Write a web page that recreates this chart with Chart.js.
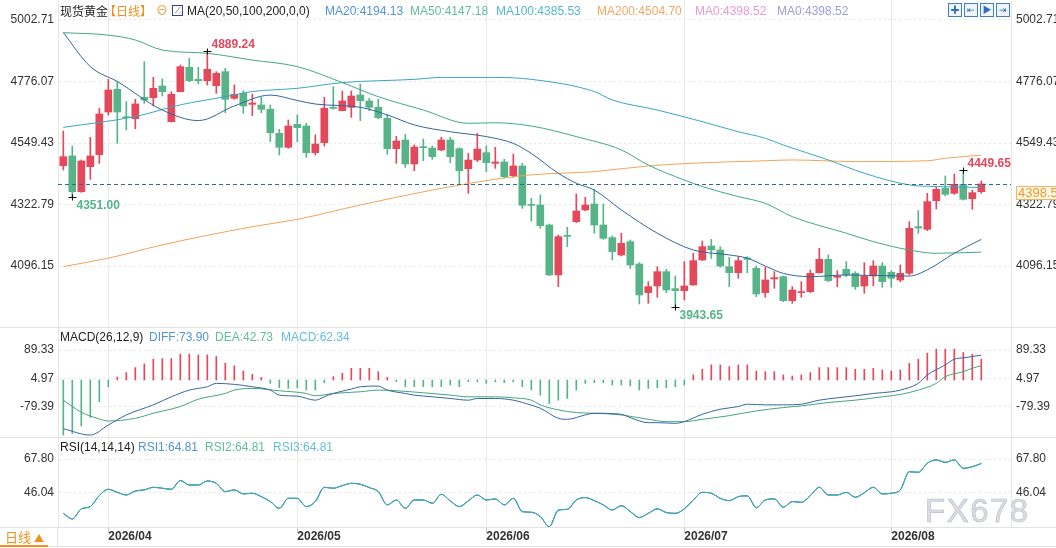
<!DOCTYPE html>
<html>
<head>
<meta charset="utf-8">
<script src="https://cdn.jsdelivr.net/npm/chart.js@4.4.1/dist/chart.umd.min.js"></script>
<style>
  body { margin: 0; background: #fff; }
  #wrap { position: relative; width: 1056px; height: 548px; overflow: hidden; background: #fff;
          font-family: "Liberation Sans", Arial, "Noto Sans CJK SC", sans-serif; font-size: 12px; color: #222; }
  canvas { position: absolute; left: 0; }
  .t { position: absolute; white-space: nowrap; line-height: 14px; z-index: 2; }
  .cjk { font-family: "Noto Sans CJK SC", sans-serif; }
  .sep { position: absolute; left: 0; width: 1056px; height: 1px; background: #e2e2e2; z-index: 2; }
  .ico { position: absolute; top: 3px; width: 12px; height: 12px; border: 1px solid #3f7fc8; background: #eef5fd;
         color: #2f6fb8; font-size: 9px; line-height: 12px; text-align: center; z-index: 2; }
</style>
</head>
<body>
<div id="wrap">
  <canvas id="mainChart" width="1056" height="327" style="top:0"></canvas>
  <canvas id="macdChart" width="1056" height="110" style="top:327px"></canvas>
  <canvas id="rsiChart" width="1056" height="111" style="top:437px"></canvas>

  <div class="sep" style="top:327px"></div>
  <div class="sep" style="top:437px"></div>
  <div class="sep" style="top:527px"></div>
  <div class="sep" style="top:546px"></div>

  <!-- price panel header -->
  <span class="t cjk" style="left:60px;top:4px">现货黄金</span>
  <span class="t cjk" style="left:104px;top:4px;color:#f0901e">【日线】</span>
  <span class="t" style="left:156px;top:4px;color:#f0901e">⊖</span>
  <span class="t" style="left:172px;top:5px;width:9px;height:9px;border:1px solid #34467a;font-size:8px;line-height:9px;text-align:center;color:#34467a">⟋</span>
  <span class="t" style="left:187px;top:4px">MA(20,50,100,200,0,0)</span>
  <span class="t" style="left:325px;top:4px;color:#4f94d4">MA20:4194.13</span>
  <span class="t" style="left:410px;top:4px;color:#62bf97">MA50:4147.18</span>
  <span class="t" style="left:496px;top:4px;color:#55b9cf">MA100:4385.53</span>
  <span class="t" style="left:597px;top:4px;color:#f2a764">MA200:4504.70</span>
  <span class="t" style="left:695px;top:4px;color:#e79bd6">MA0:4398.52</span>
  <span class="t" style="left:777px;top:4px;color:#9b9ee0">MA0:4398.52</span>
  <span class="ico" style="left:948px">✚</span>
  <span class="ico" style="left:964px">⇤</span>
  <span class="ico" style="left:980px">▶</span>
  <span class="ico" style="left:996px">⇥</span>

  <!-- MACD header -->
  <span class="t" style="left:60px;top:330px">MACD(26,12,9)</span>
  <span class="t" style="left:149px;top:330px;color:#4f94d4">DIFF:73.90</span>
  <span class="t" style="left:215px;top:330px;color:#62bf97">DEA:42.73</span>
  <span class="t" style="left:281px;top:330px;color:#62bfd8">MACD:62.34</span>

  <!-- RSI header -->
  <span class="t" style="left:60px;top:440px">RSI(14,14,14)</span>
  <span class="t" style="left:138px;top:440px;color:#4f94d4">RSI1:64.81</span>
  <span class="t" style="left:205px;top:440px;color:#62bf97">RSI2:64.81</span>
  <span class="t" style="left:273px;top:440px;color:#62bfd8">RSI3:64.81</span>

  <!-- bottom left period switch -->
  <div style="position:absolute;left:0;top:527px;width:57px;height:19px;border-right:1px solid #e2e2e2;z-index:2"></div>
  <span class="t cjk" style="left:5px;top:529px;font-size:13px;line-height:15px;color:#f0901e">日线 <span style="font-size:10px">▲</span></span>
  <div style="position:absolute;left:0;top:545px;width:48px;height:2px;background:#f0901e;z-index:2"></div>

  <span class="t" style="left:925px;top:492px;font-size:33px;line-height:38px;letter-spacing:1.5px;color:rgba(208,212,220,0.8);-webkit-text-stroke:0.6px #b8bcc4;font-family:'Liberation Sans',Arial,sans-serif">FX678</span>
</div>

<script>
// Spot gold daily candles with MA, MACD and RSI panels.
// Candle index 0..102 on a linear x axis shared by all three panels.

const FONT = '"Liberation Sans", Arial, sans-serif';
const UP = '#e5475b';
const DOWN = '#56b488';
const X_MIN = -0.59, X_MAX = 105.3;

const monthLabels = ['2026/04', '2026/05', '2026/06', '2026/07', '2026/08'];
const monthIdx = [5, 26, 47, 69, 92];

const priceTicks = [5002.71, 4776.07, 4549.43, 4322.79, 4096.15];
const macdTicks = [89.33, 4.97, -79.39];
const rsiTicks = [67.80, 46.04];

const openP = [
  4465.9, 4501.6, 4370.1, 4462.2, 4506.5, 4663.7, 4747.2, 4646.5, 4639.1, 4717.7,
  4716.5, 4759.5, 4628.1, 4738.6, 4828.3, 4784.1, 4779.1, 4760.7, 4812.3, 4714.0,
  4732.5, 4691.9, 4689.5, 4673.5, 4585.1, 4533.5, 4618.2, 4612.1, 4513.8, 4550.7,
  4680.9, 4668.6, 4680.9, 4726.3, 4704.2, 4680.9, 4640.4, 4528.6, 4560.5, 4472.1,
  4535.9, 4531.0, 4523.7, 4560.5, 4528.6, 4454.9, 4486.8, 4513.8, 4474.5, 4479.4,
  4429.1, 4464.7, 4323.5, 4321.0, 4247.3, 4063.1, 4209.2, 4259.6, 4302.6, 4324.7,
  4247.3, 4200.6, 4136.7, 4185.9, 4103.6, 3998.0, 4022.5, 4075.3, 4012.7, 4005.3,
  4026.2, 4118.3, 4169.9, 4155.2, 4093.8, 4071.6, 4125.7, 4087.6, 3998.0, 4048.3,
  4056.9, 3968.5, 3998.0, 4001.6, 4071.6, 4120.8, 4054.4, 4083.9, 4069.2, 4022.5,
  4059.4, 4096.2, 4072.9, 4044.6, 4069.2, 4241.2, 4231.3, 4337.0, 4382.4, 4364.0,
  4397.1, 4344.3, 4370.1
];
const highP = [
  4593.7, 4538.4, 4486.8, 4570.3, 4677.2, 4784.1, 4775.5, 4701.8, 4710.4, 4849.2,
  4791.4, 4785.3, 4738.6, 4836.9, 4861.4, 4828.3, 4889.24, 4812.3, 4824.6, 4763.2,
  4742.3, 4730.0, 4717.7, 4689.5, 4599.8, 4634.2, 4652.6, 4621.9, 4578.9, 4717.7,
  4757.0, 4741.1, 4741.1, 4766.9, 4714.0, 4710.4, 4655.1, 4574.0, 4581.4, 4542.1,
  4564.2, 4538.4, 4570.3, 4570.3, 4532.3, 4511.4, 4585.1, 4538.4, 4533.5, 4489.3,
  4508.9, 4474.5, 4345.6, 4357.8, 4251.0, 4210.4, 4238.7, 4361.5, 4349.2, 4378.7,
  4324.7, 4206.8, 4216.6, 4192.0, 4108.5, 4038.5, 4093.8, 4083.9, 4059.4, 4112.2,
  4142.9, 4188.3, 4194.5, 4167.5, 4128.2, 4130.6, 4130.6, 4096.2, 4091.3, 4075.3,
  4059.4, 4020.1, 4038.5, 4081.5, 4161.3, 4136.7, 4079.0, 4112.2, 4075.3, 4108.5,
  4115.9, 4108.5, 4079.0, 4099.9, 4259.6, 4300.1, 4364.0, 4386.1, 4427.9, 4435.2,
  4449.65, 4376.3, 4409.4
];
const lowP = [
  4450.0, 4351.0, 4367.7, 4415.6, 4474.5, 4652.6, 4548.2, 4597.4, 4602.3, 4695.6,
  4685.8, 4722.6, 4626.8, 4737.4, 4775.5, 4766.9, 4763.2, 4732.5, 4661.2, 4710.4,
  4658.8, 4650.2, 4661.2, 4554.4, 4505.2, 4529.8, 4554.4, 4496.6, 4505.2, 4538.4,
  4673.5, 4667.4, 4644.0, 4631.8, 4668.6, 4639.1, 4507.7, 4474.5, 4459.8, 4447.5,
  4484.4, 4489.3, 4521.2, 4477.0, 4397.1, 4364.0, 4480.7, 4443.8, 4456.1, 4420.5,
  4422.9, 4308.7, 4262.0, 4235.0, 4061.8, 4020.1, 4167.5, 4255.9, 4300.1, 4216.6,
  4194.5, 4118.3, 4133.1, 4087.6, 3956.2, 3958.6, 3980.8, 3998.0, 3943.65, 3970.9,
  4025.0, 4115.9, 4124.5, 4091.3, 4020.1, 4050.8, 4071.6, 3983.2, 3980.8, 4013.9,
  3964.8, 3958.6, 3980.8, 3998.0, 4069.2, 4038.5, 4020.1, 4056.9, 4010.2, 3995.5,
  4022.5, 4017.6, 4017.6, 4038.5, 4063.1, 4216.6, 4226.4, 4306.3, 4354.2, 4360.3,
  4339.4, 4305.0, 4364.0
];
const closeP = [
  4499.1, 4370.1, 4483.1, 4501.6, 4656.3, 4744.8, 4663.7, 4642.8, 4693.2, 4707.9,
  4750.9, 4738.6, 4728.8, 4830.7, 4779.1, 4779.1, 4820.9, 4806.2, 4710.4, 4728.8,
  4685.8, 4696.9, 4673.5, 4587.5, 4533.5, 4612.1, 4606.0, 4513.8, 4545.8, 4677.2,
  4677.2, 4704.2, 4722.6, 4705.5, 4680.9, 4642.8, 4528.6, 4556.8, 4472.1, 4534.7,
  4532.3, 4499.1, 4560.5, 4499.1, 4447.5, 4486.8, 4527.3, 4477.0, 4479.4, 4425.4,
  4464.7, 4319.8, 4319.8, 4244.8, 4063.1, 4204.3, 4205.5, 4298.9, 4321.0, 4247.3,
  4198.2, 4149.0, 4179.7, 4099.9, 3989.4, 4020.1, 4075.3, 4007.8, 4005.3, 4022.5,
  4115.9, 4167.5, 4155.2, 4096.2, 4071.6, 4115.9, 4120.8, 3993.0, 4044.6, 4053.2,
  3968.5, 4007.8, 4001.6, 4069.2, 4120.8, 4042.2, 4059.4, 4063.1, 4020.1, 4059.4,
  4096.2, 4038.5, 4050.8, 4069.2, 4235.0, 4236.2, 4333.3, 4378.7, 4360.3, 4397.1,
  4341.9, 4366.4, 4398.52
];

// moving averages at a handful of candles
const ma20Idx = [0, 3, 6, 11, 15, 19, 23, 26, 28, 33, 36, 39, 43, 47, 50, 52, 55, 57, 59, 62, 66, 70, 74, 76, 78, 80, 83, 87, 94, 96, 99, 102];
const ma20Val = [4956, 4831, 4776, 4671, 4632, 4686, 4726, 4706, 4693, 4681, 4653, 4616, 4591, 4573, 4548, 4511, 4438, 4401, 4376, 4303, 4217, 4155, 4137, 4125, 4096, 4069, 4057, 4063, 4059, 4082, 4143, 4194.13];
const ma50Idx = [0, 5, 8, 11, 16, 21, 26, 31, 35, 40, 45, 48, 52, 57, 62, 65, 69, 71, 75, 78, 81, 87, 90, 94, 97, 102];
const ma50Val = [4956, 4947, 4929, 4892, 4880, 4855, 4831, 4772, 4720, 4671, 4622, 4624, 4612, 4573, 4524, 4468, 4413, 4389, 4352, 4327, 4278, 4217, 4186, 4155, 4143, 4147.18];
const ma100Idx = [0, 8, 13, 18, 21, 26, 31, 39, 42, 48, 52, 59, 61, 66, 71, 75, 78, 80, 85, 89, 94, 97, 102];
const ma100Val = [4607, 4647, 4690, 4720, 4739, 4751, 4772, 4784, 4791, 4791, 4784, 4739, 4708, 4671, 4628, 4591, 4567, 4542, 4487, 4438, 4395, 4389, 4385.53];
const ma200Idx = [0, 5, 11, 21, 26, 33, 41, 48, 52, 59, 65, 70, 78, 81, 88, 96, 98, 102];
const ma200Val = [4094, 4125, 4174, 4241, 4268, 4321, 4376, 4416, 4432, 4444, 4465, 4475, 4484, 4487, 4481, 4484, 4493, 4504.70];

// MACD
const macdHist = [
  -164, -159, -137, -111, -65, -20, 9, 22, 37, 48,
  62, 64, 64, 77, 77, 75, 75, 70, 50, 42,
  27, 17, 8, -10, -23, -25, -23, -30, -30, -8,
  10, 20, 35, 35, 35, 25, 8, -5, -20, -20,
  -20, -20, -20, -15, -20, -5, -5, -10, -5, -8,
  -5, -20, -30, -45, -70, -60, -55, -30, -10, -8,
  -8, -15, -15, -18, -30, -25, -23, -23, -20, -15,
  15, 32, 45, 45, 40, 45, 45, 27, 25, 25,
  15, 12, 15, 22, 37, 37, 37, 37, 32, 32,
  35, 30, 27, 30, 50, 62, 80, 92, 92, 92,
  82, 77, 62.34
];
const diffIdx = [0, 3, 5, 7, 10, 12, 14, 16, 17, 19, 21, 23, 24, 26, 28, 29, 30, 32, 33, 35, 36, 38, 39, 41, 43, 45, 46, 48, 50, 52, 53, 55, 56, 58, 59, 62, 63, 65, 66, 68, 69, 71, 73, 75, 76, 78, 80, 82, 84, 86, 88, 90, 92, 93, 95, 96, 98, 99, 100, 102];
const diffVal = [-145, -164, -134, -104, -74, -50, -30, -20, -10, -13, -20, -30, -45, -48, -60, -50, -40, -27, -20, -18, -30, -40, -45, -50, -55, -60, -55, -55, -60, -75, -84, -114, -117, -104, -99, -102, -112, -127, -127, -129, -124, -102, -87, -79, -72, -74, -74, -72, -60, -53, -47, -40, -35, -30, -10, 15, 45, 62, 66, 73.90];
const deaIdx = [0, 2, 4, 5, 8, 10, 13, 15, 18, 19, 21, 24, 27, 28, 30, 33, 35, 37, 40, 43, 45, 48, 50, 52, 53, 55, 57, 59, 62, 65, 67, 69, 71, 74, 77, 80, 82, 85, 88, 91, 93, 95, 97, 98, 100, 101, 102];
const deaVal = [-60, -96, -116, -122, -114, -99, -79, -57, -40, -30, -25, -32, -40, -47, -40, -35, -30, -32, -38, -45, -50, -50, -53, -60, -74, -89, -97, -99, -104, -117, -124, -124, -117, -106, -92, -82, -77, -67, -60, -50, -43, -30, -10, 10, 25, 35, 42.73];

// RSI(14); the three lines share the same period so they coincide
const rsiVals = [
  32.3, 28.6, 35.2, 36.7, 43.9, 48.0, 46.0, 44.3, 46.9, 47.6,
  49.3, 48.7, 48.0, 53.7, 50.8, 50.8, 53.4, 51.9, 46.5, 47.6,
  45.0, 45.4, 43.2, 40.0, 35.6, 42.1, 42.1, 36.7, 40.0, 49.3,
  48.7, 50.4, 51.9, 51.3, 49.1, 46.5, 37.8, 41.0, 35.6, 41.0,
  41.0, 38.9, 44.7, 40.4, 36.7, 40.4, 44.3, 41.0, 41.7, 37.8,
  42.1, 33.4, 33.0, 30.2, 23.6, 34.5, 34.9, 41.0, 42.6, 40.6,
  37.8, 34.5, 37.3, 33.4, 29.5, 32.3, 35.2, 32.8, 32.3, 35.2,
  41.0, 46.0, 45.4, 42.1, 40.6, 43.2, 43.7, 36.0, 41.0, 41.7,
  36.3, 40.0, 39.5, 43.9, 49.3, 44.3, 44.3, 46.0, 42.8, 45.8,
  49.3, 45.0, 45.4, 47.6, 59.5, 59.1, 65.0, 67.2, 65.6, 67.2,
  61.7, 62.8, 64.81
];

// extremes that carry a price label
const markIdx = [16, 1, 68, 100];
const markType = ['high', 'low', 'low', 'high'];

const N = closeP.length;
const candleColor = closeP.map((c, i) => (c >= openP[i] ? UP : DOWN));
const pts = (idx, vals) => idx.map((x, i) => ({ x, y: vals[i] }));
const seq = vals => vals.map((y, x) => ({ x, y }));

function xAxis(showLabels) {
  return {
    type: 'linear', min: X_MIN, max: X_MAX, offset: false,
    afterBuildTicks: s => { s.ticks = monthIdx.map(v => ({ value: v })); },
    afterFit: s => { s.height = showLabels ? 21 : 0; s.paddingLeft = 0; s.paddingRight = 0; },
    grid: { color: '#ebebeb', offset: false, drawTicks: showLabels, tickLength: 6, tickColor: '#c8c8c8' },
    border: { display: false },
    ticks: {
      display: showLabels, autoSkip: false, maxRotation: 0, align: 'start', padding: -4,
      color: '#333', font: { size: 12, weight: 'bold', family: FONT },
      callback: v => monthLabels[monthIdx.indexOf(v)] || '',
    },
  };
}

function yAxis(position, min, max, ticks) {
  const left = position === 'left';
  return {
    type: 'linear', position, min, max,
    afterBuildTicks: s => { s.ticks = ticks.map(v => ({ value: v })); },
    afterFit: s => { s.width = left ? 58 : 45; s.paddingTop = 0; s.paddingBottom = 0; },
    grid: { display: left, color: '#e6e6e6', drawTicks: false },
    border: { display: true, color: '#e6e6e6', dash: [2, 3] },
    ticks: {
      autoSkip: false, padding: left ? 4 : 5, color: '#333',
      font: { size: 12, family: FONT },
      callback: v => v.toFixed(2),
    },
  };
}

function line(data, color) {
  return {
    type: 'line', data, borderColor: color, borderWidth: 1,
    pointRadius: 0, fill: false, cubicInterpolationMode: 'monotone', yAxisID: 'y',
  };
}

const baseOptions = {
  responsive: false, animation: false, events: [],
  layout: { padding: 0 },
  plugins: { legend: { display: false }, tooltip: { enabled: false } },
};

// labels, markers, last price line and the price tag on the right axis
const mainMarks = {
  id: 'mainMarks',
  afterDatasetsDraw(chart) {
    const { ctx, chartArea: a, scales: { x, y } } = chart;
    const last = closeP[N - 1];
    const ly = Math.round(y.getPixelForValue(last)) + 0.5;
    ctx.save();
    ctx.strokeStyle = '#2c6d8c';
    ctx.lineWidth = 1;
    ctx.setLineDash([4, 3]);
    ctx.beginPath(); ctx.moveTo(a.left, ly); ctx.lineTo(a.right, ly); ctx.stroke();
    ctx.setLineDash([]);

    markIdx.forEach((i, k) => {
      const isHigh = markType[k] === 'high';
      const v = isHigh ? highP[i] : lowP[i];
      const px = Math.round(x.getPixelForValue(i)) + 0.5;
      const py = Math.round(y.getPixelForValue(v)) + 0.5;
      ctx.strokeStyle = '#111';
      ctx.beginPath();
      ctx.moveTo(px - 4, py); ctx.lineTo(px + 4, py);
      ctx.moveTo(px, py - 3); ctx.lineTo(px, py + 3);
      ctx.stroke();
      ctx.fillStyle = isHigh ? UP : DOWN;
      ctx.font = 'bold 12px ' + FONT;
      ctx.textAlign = 'left';
      ctx.textBaseline = 'middle';
      ctx.fillText(v.toFixed(2), px + 4, isHigh ? py - 7 : py + 8);
    });
    ctx.restore();
  },
  afterDraw(chart) {
    const { ctx, chartArea: a, scales: { y } } = chart;
    const last = closeP[N - 1];
    const py = Math.round(y.getPixelForValue(last));
    ctx.save();
    ctx.fillStyle = '#fff8e6';
    ctx.fillRect(a.right + 5, py + 2, 41, 14);
    ctx.strokeStyle = '#f2b45e';
    ctx.strokeRect(a.right + 5.5, py + 2.5, 41, 13);
    ctx.fillStyle = '#ee9a2c';
    ctx.font = '13px ' + FONT;
    ctx.textAlign = 'left';
    ctx.textBaseline = 'middle';
    ctx.fillText(last.toFixed(1), a.right + 7, py + 9.5);
    ctx.restore();
  },
};

new Chart(document.getElementById('mainChart'), {
  type: 'line',
  data: {
    datasets: [
      line(pts(ma20Idx, ma20Val), '#30679c'),
      line(pts(ma50Idx, ma50Val), '#42a78a'),
      line(pts(ma100Idx, ma100Val), '#39a7c1'),
      line(pts(ma200Idx, ma200Val), '#f3a35a'),
      {
        type: 'bar', grouped: false, yAxisID: 'y',
        data: openP.map((o, i) => ({ x: i, y: [o, closeP[i]] })),
        backgroundColor: candleColor, barThickness: 7, minBarLength: 1, borderWidth: 0,
      },
      {
        type: 'bar', grouped: false, yAxisID: 'y',
        data: lowP.map((l, i) => ({ x: i, y: [l, highP[i]] })),
        backgroundColor: candleColor, barThickness: 1, borderWidth: 0,
      },
    ],
  },
  options: {
    ...baseOptions,
    scales: {
      x: xAxis(false),
      y: yAxis('left', 3871.36, 5076.41, priceTicks),
      y2: yAxis('right', 3871.36, 5076.41, priceTicks),
    },
  },
  plugins: [mainMarks],
});

new Chart(document.getElementById('macdChart'), {
  type: 'line',
  data: {
    datasets: [
      line(pts(diffIdx, diffVal), '#35679f'),
      line(pts(deaIdx, deaVal), '#42a67c'),
      {
        type: 'bar', grouped: false, yAxisID: 'y',
        data: seq(macdHist),
        backgroundColor: macdHist.map(v => (v >= 0 ? UP : DOWN)),
        barThickness: 1, borderWidth: 0,
      },
    ],
  },
  options: {
    ...baseOptions,
    scales: {
      x: xAxis(false),
      y: yAxis('left', -169.7, 157.9, macdTicks),
      y2: yAxis('right', -169.7, 157.9, macdTicks),
    },
  },
});

new Chart(document.getElementById('rsiChart'), {
  type: 'line',
  data: {
    datasets: [
      line(seq(rsiVals), '#3aa5c2'),
      line(seq(rsiVals), '#4fae86'),
      line(seq(rsiVals), '#3f7fc0'),
    ],
  },
  options: {
    ...baseOptions,
    scales: {
      x: xAxis(true),
      y: yAxis('left', 23.36, 82.18, rsiTicks),
      y2: yAxis('right', 23.36, 82.18, rsiTicks),
    },
  },
});
</script>
</body>
</html>
